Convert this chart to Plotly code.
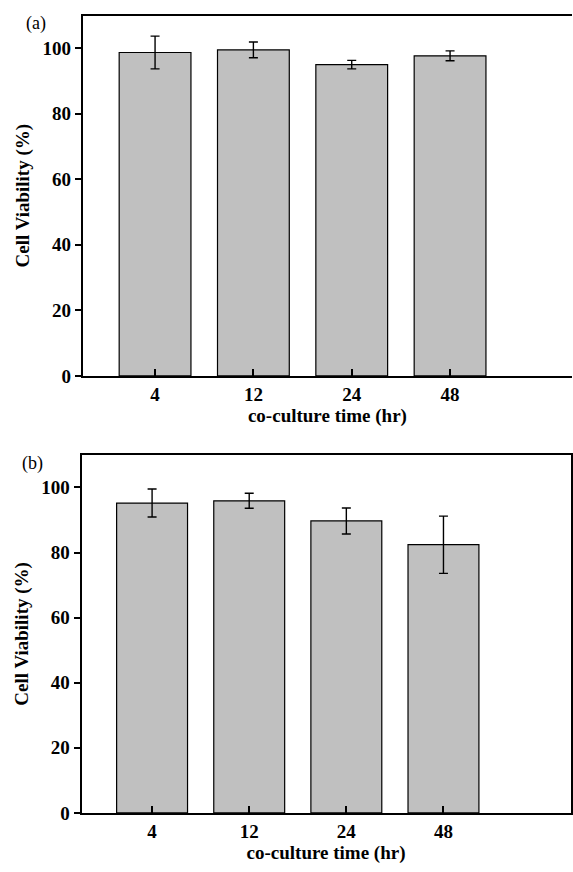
import plotly.graph_objects as go

categories = ["4", "12", "24", "48"]
viability_a = [98.7, 99.5, 95.0, 97.7]
error_a = [5.0, 2.4, 1.3, 1.5]
viability_b = [95.2, 95.9, 89.7, 82.4]
error_b = [4.3, 2.3, 4.0, 8.8]
y_ticks = [0, 20, 40, 60, 80, 100]

FONT = "Liberation Serif"
BAR_FILL = "#c0c0c0"

fig = go.Figure()

for vals, errs, xa, ya in [(viability_a, error_a, "x", "y"), (viability_b, error_b, "x2", "y2")]:
    fig.add_trace(go.Bar(
        x=categories, y=vals, xaxis=xa, yaxis=ya, width=0.73,
        marker=dict(color=BAR_FILL, line=dict(color="black", width=1.2)),
        error_y=dict(type="data", array=errs, visible=True, color="black",
                     thickness=1.4, width=4.5),
        showlegend=False,
    ))

axis_font = dict(family=FONT, size=19, color="black")
title_font = dict(family=FONT, size=19, color="black")

def xaxis(domain, anchor, rng):
    return dict(
        domain=domain, anchor=anchor, type="category", range=rng,
        tickvals=categories, ticktext=[f"<b>{c}</b>" for c in categories],
        showline=True, linecolor="black", linewidth=2, mirror=True,
        ticks="inside", ticklen=7, tickwidth=1.5, tickcolor="black",
        tickfont=axis_font, showgrid=False, zeroline=False,
        title=dict(text="<b>co-culture time (hr)</b>", font=title_font, standoff=2),
    )

def yaxis(domain, anchor, mirror):
    return dict(
        domain=domain, anchor=anchor, range=[0, 110],
        tickvals=y_ticks, ticktext=[f"<b>{t}</b>" for t in y_ticks],
        showline=True, linecolor="black", linewidth=2, mirror=mirror,
        ticks="outside", ticklen=6, tickwidth=1.5, tickcolor="black",
        tickfont=axis_font, showgrid=False, zeroline=False,
        title=dict(text="<b>Cell Viability (%)</b>", font=title_font, standoff=8),
    )

fig.update_layout(
    width=573, height=872,
    margin=dict(l=0, r=0, t=0, b=0),
    paper_bgcolor="white", plot_bgcolor="white",
    font=dict(family=FONT, color="black"),
    xaxis=xaxis([0.1449, 1.0], "y", [-0.734, 4.24]),
    yaxis=yaxis([1 - 380.7 / 872, 1 - 15.7 / 872], "x", False),
    xaxis2=xaxis([0.1426, 0.9974], "y2", [-0.726, 4.308]),
    yaxis2=yaxis([1 - 823.3 / 872, 1 - 460.7 / 872], "x2", True),
    annotations=[
        dict(text="(a)", x=36 / 573, y=1 - 24 / 872, xref="paper", yref="paper",
             xanchor="center", yanchor="middle", showarrow=False,
             font=dict(family=FONT, size=18, color="black")),
        dict(text="(b)", x=33 / 573, y=1 - 469 / 872, xref="paper", yref="paper",
             xanchor="center", yanchor="middle", showarrow=False,
             font=dict(family=FONT, size=18, color="black")),
    ],
)

fig.write_html("out.html")
